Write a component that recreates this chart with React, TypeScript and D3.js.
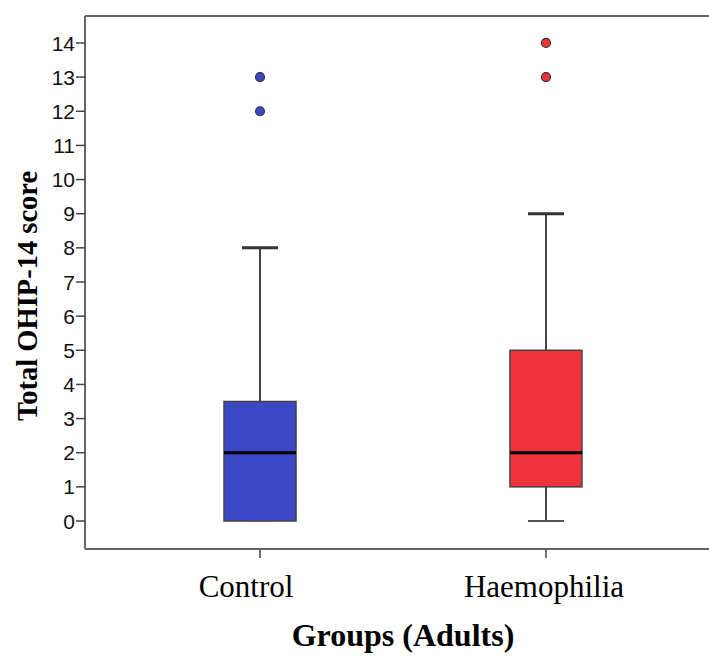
import React from 'react';
import * as d3 from 'd3';

const width = 709;
const height = 664;

// values
const groups = ['Control', 'Haemophilia'];
const lowWhisker = [0, 0];
const q1 = [0, 1];
const median = [2, 2];
const q3 = [3.5, 5];
const highWhisker = [8, 9];
const outliers = [[12, 13], [13, 14]];
const boxColors = ['#3c47c8', '#f0323a'];
const yTicks = [0, 1, 2, 3, 4, 5, 6, 7, 8, 9, 10, 11, 12, 13, 14];

const frame = { left: 85, top: 16, bottom: 549, right: 709 };

const xScale = d3.scalePoint<string>().domain(groups).range([85, 721]).padding(0.612);
const yScale = d3.scaleLinear().domain([-0.82, 14.79]).range([frame.bottom, frame.top]);

const boxWidth = 72;
const capWidth = 36;
const labelDx = [-14, -2];

export default function App() {
    return (
        <svg width={width} height={height} style={{ position: 'absolute', left: 0, top: 0, background: '#fff' }}>
            {/* frame */}
            <g stroke="#666" strokeWidth={2} fill="none">
                <line x1={frame.left} x2={frame.right} y1={frame.top} y2={frame.top} />
                <line x1={frame.left} x2={frame.right} y1={frame.bottom} y2={frame.bottom} />
                <line x1={frame.left} x2={frame.left} y1={frame.top} y2={frame.bottom} />
            </g>

            {/* y axis */}
            {yTicks.map(t => (
                <g key={t} transform={`translate(0, ${yScale(t)})`}>
                    <line x1={frame.left - 9} x2={frame.left} stroke="#444" strokeWidth={1.5} />
                    <text x={frame.left - 10} dy="0.36em" textAnchor="end"
                        style={{ fontFamily: '"Liberation Sans", Arial, sans-serif', fontSize: 21, fill: '#111' }}>
                        {t}
                    </text>
                </g>
            ))}

            {/* boxes */}
            {groups.map((g, i) => {
                const cx = xScale(g) as number;
                return (
                    <g key={g}>
                        <line x1={cx} x2={cx} y1={yScale(highWhisker[i])} y2={yScale(q3[i])} stroke="#444" strokeWidth={2} />
                        <line x1={cx} x2={cx} y1={yScale(lowWhisker[i])} y2={yScale(q1[i])} stroke="#444" strokeWidth={2} />
                        <line x1={cx - capWidth / 2} x2={cx + capWidth / 2} y1={yScale(highWhisker[i])} y2={yScale(highWhisker[i])} stroke="#333" strokeWidth={3} />
                        <rect
                            x={cx - boxWidth / 2}
                            y={yScale(q3[i])}
                            width={boxWidth}
                            height={yScale(q1[i]) - yScale(q3[i])}
                            fill={boxColors[i]}
                            stroke="#444"
                            strokeWidth={1.5}
                        />
                        <line x1={cx - capWidth / 2} x2={cx + capWidth / 2} y1={yScale(lowWhisker[i])} y2={yScale(lowWhisker[i])} stroke="#555" strokeWidth={2} opacity={i === 0 ? 0.5 : 1} />
                        <line x1={cx - boxWidth / 2} x2={cx + boxWidth / 2} y1={yScale(median[i])} y2={yScale(median[i])} stroke="#000" strokeWidth={3} />
                        {outliers[i].map(v => (
                            <circle key={v} cx={cx} cy={yScale(v)} r={4.5} fill={boxColors[i]} stroke="#333" strokeWidth={1.2} />
                        ))}
                        <line x1={cx} x2={cx} y1={frame.bottom} y2={frame.bottom + 9} stroke="#444" strokeWidth={1.5} />
                        <text x={cx + labelDx[i]} y={597} textAnchor="middle"
                            style={{ fontFamily: '"Liberation Serif", "Times New Roman", serif', fontSize: 31, fill: '#000' }}>
                            {g}
                        </text>
                    </g>
                );
            })}

            {/* axis titles */}
            <text x={403} y={646} textAnchor="middle"
                style={{ fontFamily: '"Liberation Serif", "Times New Roman", serif', fontSize: 32, fontWeight: 700 }}>
                Groups (Adults)
            </text>
            <text transform="translate(37, 296) rotate(-90)" textAnchor="middle"
                style={{ fontFamily: '"Liberation Serif", "Times New Roman", serif', fontSize: 28.5, fontWeight: 700 }}>
                Total OHIP-14 score
            </text>
        </svg>
    );
}
